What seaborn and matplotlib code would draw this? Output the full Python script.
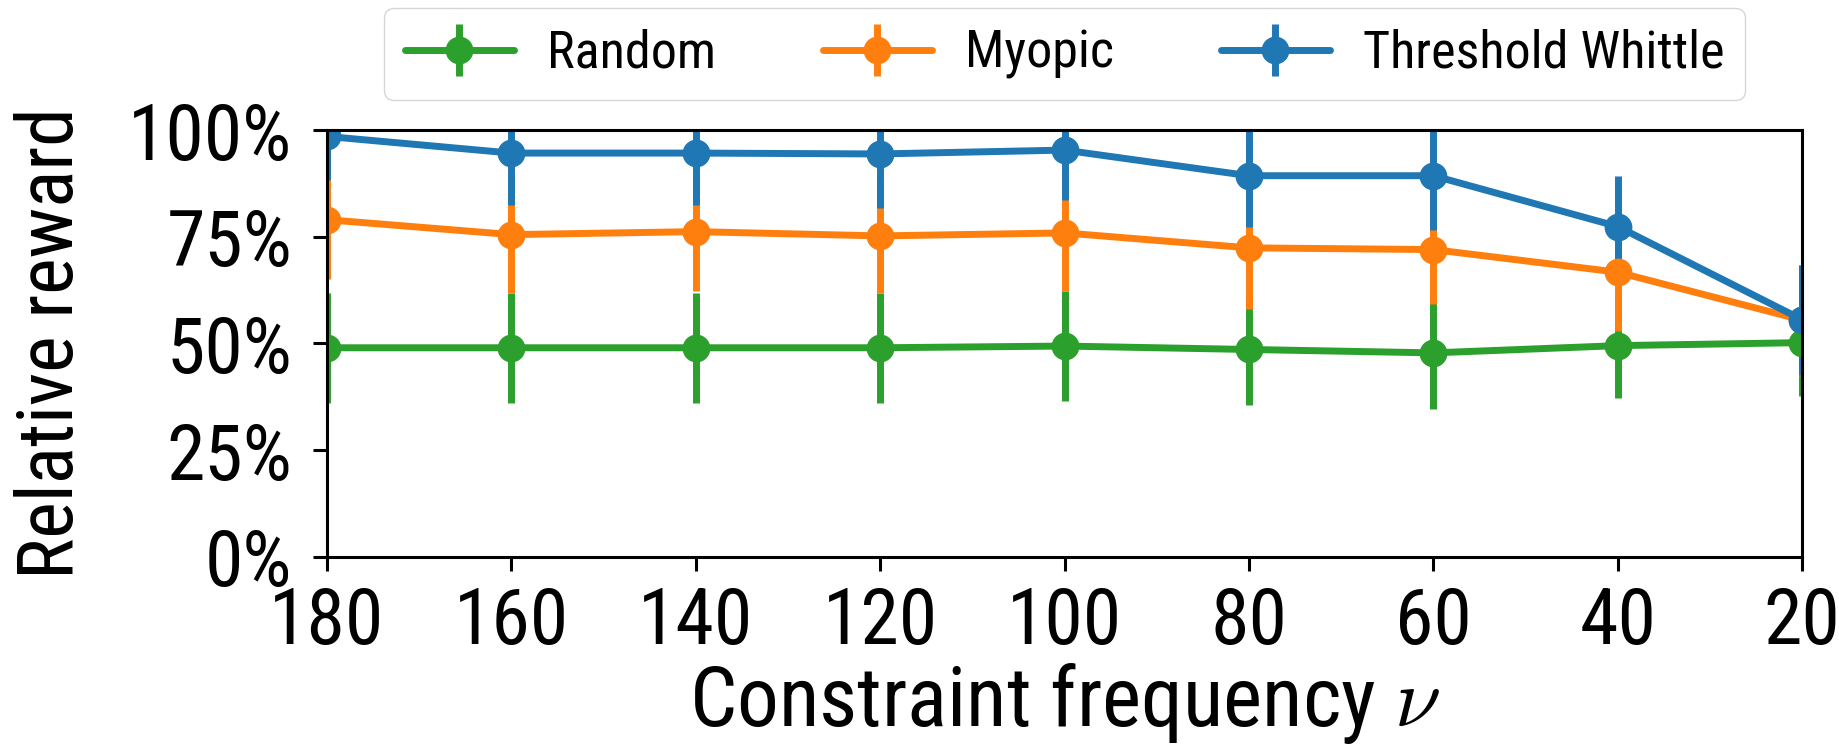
import numpy as np
import matplotlib
matplotlib.use("Agg")
import matplotlib.pyplot as plt
from matplotlib import font_manager as fm
import seaborn as sns

# constraint frequency values (x axis runs from 180 down to 20)
freqs = [180, 160, 140, 120, 100, 80, 60, 40, 20]

# relative reward in percent, with error bar half-widths
random_mean = [49.0, 49.0, 49.0, 49.0, 49.4, 48.6, 47.8, 49.5, 50.2]
random_err = [12.9, 12.9, 12.9, 12.9, 12.9, 13.1, 13.1, 12.2, 12.5]

myopic_mean = [79.0, 75.5, 76.2, 75.2, 75.9, 72.4, 72.0, 66.7, 55.5]
myopic_err = [14.0, 13.7, 14.0, 13.4, 13.7, 14.3, 12.7, 13.8, 13.0]

whittle_mean = [98.5, 94.6, 94.6, 94.4, 95.3, 89.3, 89.3, 77.4, 55.6]
whittle_err = [10.2, 12.1, 12.1, 12.7, 11.7, 11.9, 12.7, 11.9, 12.9]

series_names = ["Random", "Myopic", "Threshold Whittle"]
yticks = [0, 25, 50, 75, 100]
ytick_labels = ["0%", "25%", "50%", "75%", "100%"]

# the original text is narrow, so look for a condensed sans face
prefs = ["Liberation Sans Narrow", "Roboto Condensed", "Open Sans Condensed",
         "Noto Sans Condensed", "DejaVu Sans Condensed"]
have = {f.name for f in fm.fontManager.ttflist}
cond = sorted({f.name for f in fm.fontManager.ttflist
               if f.stretch in ("condensed", "semi-condensed", "extra-condensed")
               and "Mono" not in f.name})
narrow = None
for p in prefs:
    if p in have:
        narrow = p
        break
if narrow is None and cond:
    narrow = cond[0]
scale = 1.0 if narrow else 0.8

sns.set_theme(style="ticks")
plt.rcParams["font.family"] = ([narrow] if narrow else []) + ["DejaVu Sans"]
plt.rcParams["font.stretch"] = "condensed"
plt.rcParams["mathtext.fontset"] = "cm"
plt.rcParams["axes.linewidth"] = 2.2
plt.rcParams["axes.edgecolor"] = "black"
plt.rcParams["text.color"] = "black"
plt.rcParams["axes.labelcolor"] = "black"

pal = sns.color_palette("tab10")
colors = [pal[2], pal[1], pal[0]]

fig = plt.figure(figsize=(18.39, 7.46), dpi=100)
ax = fig.add_subplot(111)
fig.subplots_adjust(left=0.1778, right=0.9799, bottom=0.2534, top=0.8257)

means = [random_mean, myopic_mean, whittle_mean]
errs = [random_err, myopic_err, whittle_err]
for name, m, e, c in zip(series_names, means, errs, colors):
    ax.errorbar(freqs, m, yerr=e, color=c, marker="o", markersize=19,
                linewidth=5, elinewidth=5, capsize=0, label=name)

ax.set_xlim(180, 20)
ax.set_ylim(0, 100)
ax.set_xticks([180, 160, 140, 120, 100, 80, 60, 40, 20])
ax.set_yticks(yticks)
ax.set_yticklabels(ytick_labels)
ax.tick_params(axis="both", direction="out", length=10, width=2.2,
               labelsize=56 * scale, colors="black")
ax.tick_params(axis="x", pad=10)
ax.tick_params(axis="y", pad=15)

ax.set_xlabel(r"Constraint frequency $\nu$", fontsize=60 * scale)
ax.xaxis.label.set_va("baseline")
ax.xaxis.set_label_coords(0.5, -0.396)
ax.set_ylabel("Relative reward", fontsize=56 * scale)
ax.yaxis.label.set_va("baseline")
ax.yaxis.set_label_coords(-0.172, 0.5)

ax.legend(loc="lower center", bbox_to_anchor=(0.5, 1.07), ncol=3,
          fontsize=37.5 * scale, frameon=True, handlelength=2.1,
          handletextpad=0.63, columnspacing=2.05, borderaxespad=0)

fig.savefig("out.png", dpi=100)
